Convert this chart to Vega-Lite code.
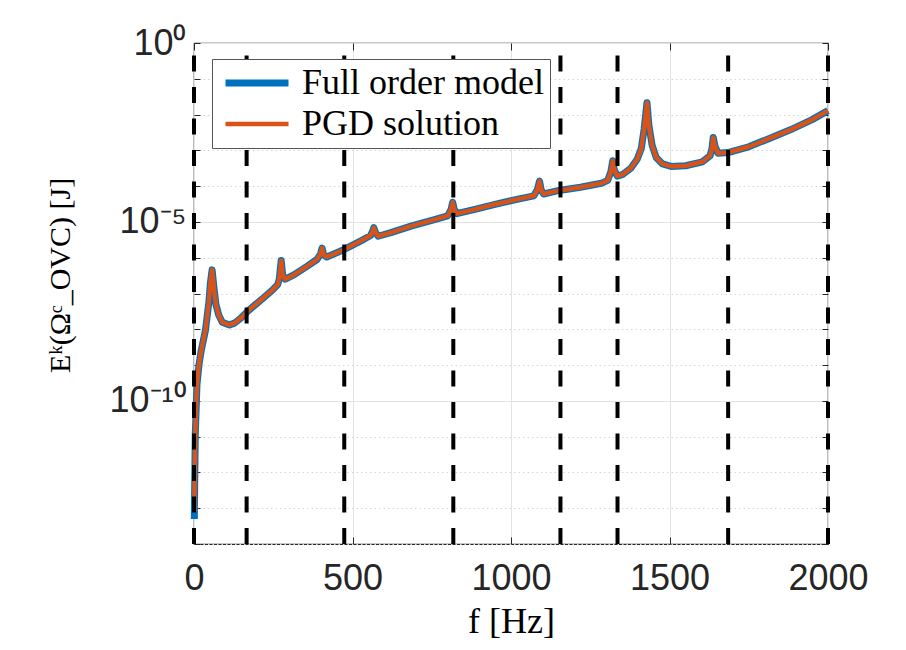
{
  "$schema": "https://vega.github.io/schema/vega-lite/v6.json",
  "width": 634,
  "height": 501,
  "autosize": {"type": "none"},
  "padding": {"left": 194, "top": 43, "right": 78, "bottom": 106},
  "background": "white",
  "config": {
    "view": {"stroke": "#262626", "strokeWidth": 1.2},
    "axis": {
      "labelFont": "Liberation Sans",
      "labelFontSize": 36,
      "labelColor": "#262626",
      "titleFont": "Liberation Serif",
      "titleFontSize": 36,
      "titleFontWeight": "normal",
      "titleColor": "black",
      "domain": false,
      "tickColor": "#262626",
      "tickWidth": 1,
      "labelFlush": false,
      "labelOverlap": false,
      "labelBound": false
    }
  },
  "datasets": {
    "curve": [
      {"f": 1, "full": 5.01e-14, "pgd": 7.94e-14},
      {"f": 4, "full": 1.10e-11, "pgd": 1.10e-11},
      {"f": 9.3, "full": 2.82e-10, "pgd": 2.82e-10},
      {"f": 16, "full": 1.05e-9, "pgd": 1.05e-9},
      {"f": 22.6, "full": 2.51e-9, "pgd": 2.51e-9},
      {"f": 35.9, "full": 9.12e-9, "pgd": 9.12e-9},
      {"f": 46.5, "full": 5.25e-8, "pgd": 5.25e-8},
      {"f": 51.8, "full": 2.0e-7, "pgd": 2.0e-7},
      {"f": 57.1, "full": 4.57e-7, "pgd": 4.57e-7},
      {"f": 62.5, "full": 1.58e-7, "pgd": 1.58e-7},
      {"f": 69, "full": 5.01e-8, "pgd": 5.01e-8},
      {"f": 78, "full": 2.51e-8, "pgd": 2.51e-8},
      {"f": 89, "full": 1.58e-8, "pgd": 1.58e-8},
      {"f": 112, "full": 1.32e-8, "pgd": 1.32e-8},
      {"f": 129, "full": 1.51e-8, "pgd": 1.51e-8},
      {"f": 149, "full": 2.09e-8, "pgd": 2.09e-8},
      {"f": 169, "full": 3.16e-8, "pgd": 3.16e-8},
      {"f": 195, "full": 5.01e-8, "pgd": 5.01e-8},
      {"f": 222, "full": 7.94e-8, "pgd": 7.94e-8},
      {"f": 248, "full": 1.26e-7, "pgd": 1.26e-7},
      {"f": 264, "full": 1.78e-7, "pgd": 1.78e-7},
      {"f": 269, "full": 2.51e-7, "pgd": 2.51e-7},
      {"f": 275, "full": 8.32e-7, "pgd": 8.32e-7},
      {"f": 280, "full": 3.16e-7, "pgd": 3.16e-7},
      {"f": 288, "full": 2.51e-7, "pgd": 2.51e-7},
      {"f": 315, "full": 3.31e-7, "pgd": 3.31e-7},
      {"f": 355, "full": 5.62e-7, "pgd": 5.62e-7},
      {"f": 388, "full": 8.91e-7, "pgd": 8.91e-7},
      {"f": 399, "full": 1.26e-6, "pgd": 1.26e-6},
      {"f": 404, "full": 1.86e-6, "pgd": 1.86e-6},
      {"f": 409, "full": 1.20e-6, "pgd": 1.20e-6},
      {"f": 419, "full": 1.05e-6, "pgd": 1.05e-6},
      {"f": 474, "full": 1.70e-6, "pgd": 1.70e-6},
      {"f": 528, "full": 3.02e-6, "pgd": 3.02e-6},
      {"f": 557, "full": 4.17e-6, "pgd": 4.17e-6},
      {"f": 564, "full": 5.62e-6, "pgd": 5.62e-6},
      {"f": 567, "full": 6.92e-6, "pgd": 6.92e-6},
      {"f": 573, "full": 5.01e-6, "pgd": 5.01e-6},
      {"f": 581, "full": 3.98e-6, "pgd": 3.98e-6},
      {"f": 621, "full": 5.01e-6, "pgd": 5.01e-6},
      {"f": 687, "full": 7.76e-6, "pgd": 7.76e-6},
      {"f": 753, "full": 1.12e-5, "pgd": 1.12e-5},
      {"f": 800, "full": 1.48e-5, "pgd": 1.48e-5},
      {"f": 811, "full": 2.24e-5, "pgd": 2.24e-5},
      {"f": 816, "full": 3.55e-5, "pgd": 3.55e-5},
      {"f": 821, "full": 2.24e-5, "pgd": 2.24e-5},
      {"f": 829, "full": 1.70e-5, "pgd": 1.70e-5},
      {"f": 886, "full": 2.24e-5, "pgd": 2.24e-5},
      {"f": 953, "full": 3.16e-5, "pgd": 3.16e-5},
      {"f": 1019, "full": 4.27e-5, "pgd": 4.27e-5},
      {"f": 1072, "full": 5.37e-5, "pgd": 5.37e-5},
      {"f": 1083, "full": 7.94e-5, "pgd": 7.94e-5},
      {"f": 1090, "full": 1.38e-4, "pgd": 1.38e-4},
      {"f": 1095, "full": 7.94e-5, "pgd": 7.94e-5},
      {"f": 1103, "full": 6.03e-5, "pgd": 6.03e-5},
      {"f": 1152, "full": 7.59e-5, "pgd": 7.59e-5},
      {"f": 1219, "full": 9.33e-5, "pgd": 9.33e-5},
      {"f": 1285, "full": 1.20e-4, "pgd": 1.20e-4},
      {"f": 1305, "full": 1.45e-4, "pgd": 1.45e-4},
      {"f": 1315, "full": 2.51e-4, "pgd": 2.51e-4},
      {"f": 1321, "full": 5.13e-4, "pgd": 5.13e-4},
      {"f": 1326, "full": 2.82e-4, "pgd": 2.82e-4},
      {"f": 1335, "full": 1.91e-4, "pgd": 1.91e-4},
      {"f": 1351, "full": 2.09e-4, "pgd": 2.09e-4},
      {"f": 1378, "full": 3.16e-4, "pgd": 3.16e-4},
      {"f": 1398, "full": 5.62e-4, "pgd": 5.62e-4},
      {"f": 1411, "full": 1.12e-3, "pgd": 1.12e-3},
      {"f": 1420, "full": 3.98e-3, "pgd": 3.98e-3},
      {"f": 1429, "full": 2.14e-2, "pgd": 2.14e-2},
      {"f": 1435, "full": 5.01e-3, "pgd": 5.01e-3},
      {"f": 1445, "full": 1.41e-3, "pgd": 1.41e-3},
      {"f": 1458, "full": 6.31e-4, "pgd": 6.31e-4},
      {"f": 1478, "full": 4.17e-4, "pgd": 4.17e-4},
      {"f": 1505, "full": 3.55e-4, "pgd": 3.55e-4},
      {"f": 1551, "full": 3.72e-4, "pgd": 3.72e-4},
      {"f": 1604, "full": 4.79e-4, "pgd": 4.79e-4},
      {"f": 1628, "full": 7.08e-4, "pgd": 7.08e-4},
      {"f": 1634, "full": 1.12e-3, "pgd": 1.12e-3},
      {"f": 1638, "full": 2.29e-3, "pgd": 2.29e-3},
      {"f": 1644, "full": 1.26e-3, "pgd": 1.26e-3},
      {"f": 1653, "full": 8.32e-4, "pgd": 8.32e-4},
      {"f": 1684, "full": 8.71e-4, "pgd": 8.71e-4},
      {"f": 1750, "full": 1.26e-3, "pgd": 1.26e-3},
      {"f": 1817, "full": 2.19e-3, "pgd": 2.19e-3},
      {"f": 1883, "full": 3.80e-3, "pgd": 3.80e-3},
      {"f": 1950, "full": 7.24e-3, "pgd": 7.24e-3},
      {"f": 2000, "full": 1.29e-2, "pgd": 1.29e-2}
    ],
    "modes": [
      {"f": 0}, {"f": 166}, {"f": 474}, {"f": 818}, {"f": 1156}, {"f": 1336}, {"f": 1685}, {"f": 2000}
    ]
  },
  "layer": [
    {
      "data": {"name": "curve"},
      "transform": [{"fold": ["full", "pgd"], "as": ["series", "E"]}],
      "mark": {"type": "line", "strokeCap": "butt", "strokeJoin": "round"},
      "encoding": {
        "x": {
          "field": "f", "type": "quantitative",
          "scale": {"domain": [0, 2000], "nice": false},
          "axis": {
            "orient": "bottom",
            "values": [0, 500, 1000, 1500, 2000],
            "format": "d",
            "title": "f  [Hz]",
            "grid": true, "gridColor": "#e3e3e3", "gridWidth": 1,
            "tickSize": -7, "labelPadding": 24, "titlePadding": 8
          }
        },
        "y": {
          "field": "E", "type": "quantitative",
          "scale": {"type": "log", "domain": [1e-14, 1], "nice": false},
          "axis": {
            "orient": "left",
            "values": [1e-14, 1e-13, 1e-12, 1e-11, 1e-10, 1e-9, 1e-8, 1e-7, 1e-6, 1e-5, 1e-4, 1e-3, 1e-2, 1e-1, 1],
            "labelExpr": "round(log(datum.value)/LN10) == 0 ? '10⁰' : round(log(datum.value)/LN10) == -5 ? '10⁻⁵' : round(log(datum.value)/LN10) == -10 ? '10⁻¹⁰' : ''",
            "labelPadding": 14,
            "grid": true,
            "gridColor": {"condition": {"test": "round(log(datum.value)/LN10) % 5 == 0", "value": "#e3e3e3"}, "value": "#d6d6d6"},
            "gridDash": {"condition": {"test": "round(log(datum.value)/LN10) % 5 == 0", "value": []}, "value": [1.5, 3]},
            "tickSize": -6,
            "title": "Eᵏ(Ωᶜ_OVC)  [J]",
            "titleFontSize": 30,
            "titleAngle": -90,
            "titleX": -134,
            "titleY": 232,
            "titleAlign": "center",
            "titleBaseline": "middle"
          }
        },
        "color": {
          "field": "series", "type": "nominal",
          "scale": {"domain": ["full", "pgd"], "range": ["#0072BD", "#D95319"]},
          "legend": {
            "title": null,
            "orient": "none",
            "legendX": 18,
            "legendY": 16,
            "zindex": 2,
            "symbolType": "M-1,0H5",
            "symbolSize": 441,
            "labelFont": "Liberation Serif",
            "labelFontSize": 36,
            "labelColor": "black",
            "labelLimit": 500,
            "labelOffset": 48,
            "padding": 6,
            "rowPadding": 5,
            "fillColor": "white",
            "strokeColor": "#555555",
            "labelExpr": "datum.label == 'full' ? 'Full order model' : 'PGD solution'"
          }
        },
        "strokeWidth": {
          "field": "series", "type": "nominal",
          "scale": {"domain": ["full", "pgd"], "range": [7, 4.5]},
          "legend": {
            "title": null,
            "orient": "none",
            "legendX": 18,
            "legendY": 16,
            "zindex": 2,
            "symbolType": "M-1,0H5",
            "symbolSize": 441,
            "labelFont": "Liberation Serif",
            "labelFontSize": 36,
            "labelColor": "black",
            "labelLimit": 500,
            "labelOffset": 48,
            "padding": 6,
            "rowPadding": 5,
            "fillColor": "white",
            "strokeColor": "#555555",
            "labelExpr": "datum.label == 'full' ? 'Full order model' : 'PGD solution'"
          }
        }
      }
    },
    {
      "data": {"name": "modes"},
      "mark": {"type": "rule", "color": "black", "strokeWidth": 4, "strokeDash": [16, 15.5], "strokeCap": "butt"},
      "encoding": {
        "x": {
          "field": "f", "type": "quantitative",
          "axis": {"orient": "top", "values": [0, 500, 1000, 1500, 2000], "labels": false, "grid": false, "tickSize": -7, "title": null}
        },
        "y": {
          "datum": 1e-14, "type": "quantitative",
          "axis": {
            "orient": "right",
            "values": [1e-14, 1e-13, 1e-12, 1e-11, 1e-10, 1e-9, 1e-8, 1e-7, 1e-6, 1e-5, 1e-4, 1e-3, 1e-2, 1e-1, 1],
            "labels": false, "grid": false, "tickSize": -6, "title": null
          }
        },
        "y2": {"datum": 1}
      }
    }
  ],
  "resolve": {"axis": {"x": "independent", "y": "independent"}}
}
